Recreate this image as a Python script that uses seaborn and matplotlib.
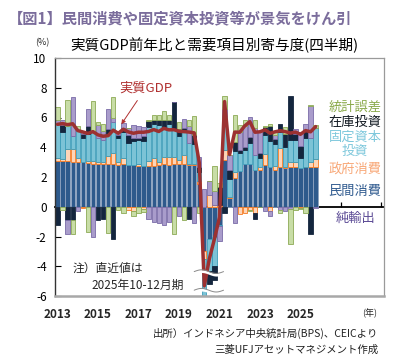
import numpy as np
import pandas as pd
import matplotlib
matplotlib.use("Agg")
import matplotlib.pyplot as plt
import seaborn as sns

# ---------------- data (pp contribution, %YoY) ----------------
years = list(range(2013, 2026))
quarters = [f"{y}Q{q}" for y in years for q in range(1, 5)]

gdp = [5.54, 5.59, 5.52, 5.58, 5.12, 5.03, 4.93, 5.05, 4.83, 4.74, 4.78, 5.15,
       4.94, 5.21, 5.03, 4.94, 5.01, 5.01, 5.06, 5.19, 5.06, 5.27, 5.17, 5.18,
       5.07, 5.05, 5.02, 4.97, 2.97, -5.32, -3.49, -2.17, -0.70, 7.07, 3.51, 5.02,
       5.01, 5.44, 5.72, 5.01, 5.04, 5.17, 4.94, 5.04, 5.11, 5.05, 4.95, 5.02,
       4.87, 5.12, 5.04, 5.39]

private_cons = [3.10, 3.05, 3.05, 3.00, 3.00, 3.00, 2.95, 2.90, 2.85, 2.85, 2.85, 2.85,
                2.80, 2.85, 2.80, 2.80, 2.75, 2.75, 2.75, 2.75, 2.80, 2.85, 2.80, 2.85,
                2.85, 2.90, 2.80, 2.80, 1.55, -2.95, -2.20, -2.00, -1.20, 3.15, 0.60, 1.90,
                2.40, 2.90, 2.85, 2.50, 2.50, 2.80, 2.70, 2.50, 2.65, 2.60, 2.65, 2.65,
                2.60, 2.65, 2.65, 2.70]
gov_cons = [0.15, 0.15, 0.80, 0.85, 0.25, -0.10, 0.15, 0.20, 0.15, 0.15, 0.55, 0.75,
            0.20, 0.45, -0.25, -0.30, 0.15, -0.15, 0.30, 0.50, 0.20, 0.50, 0.55, 0.50,
            0.30, 0.60, 0.10, 0.05, 0.20, -0.55, 0.80, 0.15, 0.15, 0.65, 0.05, 0.45,
            -0.50, -0.40, -0.25, -0.45, 0.20, 0.75, -0.30, 0.25, 1.30, 0.10, 0.35, 0.35,
            -0.10, 0.00, 0.35, 0.50]
fixed_inv = [2.30, 1.80, 1.55, 0.90, 1.90, 1.60, 1.80, 1.90, 1.60, 1.50, 1.50, 2.10,
             1.60, 1.70, 1.50, 1.60, 1.60, 1.70, 2.30, 2.30, 2.50, 2.00, 2.20, 1.90,
             1.60, 1.50, 1.40, 1.35, 0.60, -2.70, -2.10, -2.00, -0.10, 2.30, 1.20, 1.40,
             1.20, 0.90, 1.45, 1.00, 0.60, 1.30, 1.70, 1.50, 1.10, 1.30, 1.50, 1.50,
             0.70, 2.00, 1.60, 2.10]
inventory = [-1.20, 0.50, -0.90, -0.90, 0.00, 0.30, 0.50, 0.00, -0.90, -0.80, 0.30, -2.20,
             0.20, 0.30, 0.50, 0.20, 0.10, 0.30, 0.40, 0.30, 0.30, 0.50, 0.30, 1.80,
             0.50, 0.30, -0.80, 0.60, 0.30, -0.30, -0.90, -0.90, 1.20, -0.40, 0.60, 0.60,
             0.20, 0.20, 0.40, -0.40, 0.30, 0.50, 1.00, 0.30, 0.50, 0.90, 2.95, 0.40,
             0.80, 0.50, -1.80, 0.00]
net_exports = [0.30, 0.35, -0.90, 2.60, -0.30, 0.20, 1.20, -2.00, 0.90, 0.60, 1.40, 0.30,
               0.30, 0.30, 0.50, 0.90, 0.80, 0.60, -0.80, -1.00, -1.10, -1.20, -1.00, 0.00,
               -0.65, 0.60, 1.10, -1.10, 0.70, 1.20, 0.90, 0.90, -1.00, 0.50, 1.00, -1.10,
               1.20, 1.40, 1.30, 1.80, 1.50, -0.30, -0.30, 0.30, -0.20, -0.30, -0.15, 0.30,
               0.90, 0.40, 2.20, -0.10]
stat_disc = [0.85, -0.25, 1.80, -0.90, 0.30, 0.00, -1.70, 2.10, 0.20, 0.45, -1.75, 1.35,
             -0.20, -0.40, 0.00, -0.30, -0.40, -0.20, 0.10, 0.35, 0.35, 0.60, 0.30, -1.85,
             0.45, -0.90, 0.40, 1.30, -0.40, -0.30, 0.00, 1.70, 0.25, 0.85, 0.05, 1.80,
             0.50, 0.45, -0.05, 0.55, -0.05, 0.10, 0.15, 0.20, -0.25, 0.45, -2.35, -0.20,
             -0.03, -0.40, 0.05, 0.20]

tick_years = ["2013", "2015", "2017", "2019", "2021", "2023", "2025"]

# ---------------- styling ----------------
sns.set_theme(style="white")
plt.rcParams["font.family"] = ["Noto Sans CJK JP", "DejaVu Sans"]

fig = plt.figure(figsize=(3.97, 3.60), dpi=100)
ax = fig.add_axes([55 / 397, 64 / 360, 329 / 397, 238 / 360])

x = np.arange(len(quarters))
series = [
    (private_cons, "#2e5a8c", "#8ea3c0"),
    (gov_cons, "#fdd5b8", "#f47920"),
    (fixed_inv, "#7cc3d6", "#3c9cb8"),
    (inventory, "#14263e", "#14263e"),
    (net_exports, "#a99ccb", "#7a6ba8"),
    (stat_disc, "#c8dda6", "#8caa55"),
]
pos_b = np.zeros(len(x))
neg_b = np.zeros(len(x))
for vals, fc, ec in series:
    v = np.asarray(vals, dtype=float)
    b = np.where(v >= 0, pos_b, neg_b)
    ax.bar(x, v, bottom=b, width=0.86, color=fc, edgecolor=ec, linewidth=0.6, zorder=2)
    pos_b += np.clip(v, 0, None)
    neg_b += np.clip(v, None, 0)

df = pd.DataFrame({"x": x, "gdp": gdp})
sns.lineplot(data=df, x="x", y="gdp", ax=ax, color="#9c3131", linewidth=2.5, zorder=4)

# axis break marks over the truncated COVID bars
trough = int(np.argmin(gdp))
wx = np.linspace(trough - 2.0, trough + 3.8, 60)
for yb in (-4.45, -5.7):
    wy = yb + 0.12 * np.sin((wx - wx[0]) / (wx[-1] - wx[0]) * 2 * np.pi)
    ax.fill_between(wx, wy - 0.09, wy + 0.09, color="white", zorder=5, lw=0)
    ax.plot(wx, wy + 0.09, color="#8a8a8a", lw=0.7, zorder=6)

ax.set_xlim(-0.5, 64.5)
ax.set_ylim(-6, 10)
ax.set_yticks(range(-6, 11, 2))
ax.set_yticklabels([str(v) for v in range(-6, 11, 2)], fontsize=8.5)
ax.set_xticks(range(0, 8 * len(tick_years), 8))
ax.set_xticklabels(tick_years, fontsize=8.5, fontweight="bold")
ax.tick_params(axis="x", length=0, pad=9)
ax.tick_params(axis="y", direction="in", length=4, width=0.8, left=True, pad=6, colors="black")
ax.set_xlabel("")
ax.set_ylabel("")
for s in ["top", "right"]:
    ax.spines[s].set_color("#9a9a9a")
    ax.spines[s].set_linewidth(0.9)
ax.spines["bottom"].set_color("#a8a8a8")
ax.spines["bottom"].set_linewidth(1.8)
ax.spines["left"].set_color("#333333")
ax.spines["left"].set_linewidth(1.0)

# zero line with upward tick marks
sec = ax.secondary_xaxis(6 / 16)
sec.set_xticks(range(0, 65, 8))
sec.tick_params(direction="in", length=3.5, width=0.9, labelbottom=False, labeltop=False, color="black")
sec.spines["bottom"].set_color("black")
sec.spines["bottom"].set_linewidth(1.3)
sec.spines["top"].set_visible(False)

# series labels at right
lbl_x = 0.912
labels = [
    ("統計誤差", 6.7, "#8aaa4a"),
    ("在庫投資", 5.7, "#101820"),
    ("固定資本\n投資", 4.2, "#7ec8dc"),
    ("政府消費", 2.55, "#f8a878"),
    ("民間消費", 1.0, "#2f5a8f"),
    ("純輸出", -0.8, "#5b4a95"),
]
for t, yv, c in labels:
    ax.text(lbl_x, yv, t, transform=ax.get_yaxis_transform(), ha="center", va="center",
            fontsize=9.5, color=c, linespacing=1.05)

# GDP annotation
ax.annotate("実質GDP", xy=(12.3, gdp[12] + 0.45), xytext=(0.275, 0.872),
            textcoords="axes fraction", ha="center", va="center", fontsize=9.5, color="#b03030",
            arrowprops=dict(arrowstyle="-|>", color="#b03030", lw=0.7, mutation_scale=6))

ax.text(0.052, 0.118, "注）直近値は", transform=ax.transAxes, fontsize=8.5, va="center", ha="left")
ax.text(0.112, 0.046, "2025年10-12月期", transform=ax.transAxes, fontsize=8.5, va="center", ha="left")

# figure texts
fig.text(8 / 397, 1 - 18 / 360, "【図1】民間消費や固定資本投資等が景気をけん引", fontsize=11,
         fontweight="bold", color="#7b6d9c", ha="left", va="center")
fig.text(214 / 397, 1 - 45 / 360, "実質GDP前年比と需要項目別寄与度(四半期)", fontsize=10.5,
         color="black", ha="center", va="center")
fig.text(42 / 397, 1 - 43 / 360, "(%)", fontsize=6.5, ha="center", va="center")
fig.text(370 / 397, 1 - 313 / 360, "(年)", fontsize=6.5, ha="center", va="center")
fig.text(378 / 397, 1 - 333 / 360, "出所）インドネシア中央統計局(BPS)、CEICより", fontsize=7.5,
         ha="right", va="center", color="#222222")
fig.text(378 / 397, 1 - 350 / 360, "三菱UFJアセットマネジメント作成", fontsize=7.5,
         ha="right", va="center", color="#222222")

fig.savefig("out.png", dpi=100)
